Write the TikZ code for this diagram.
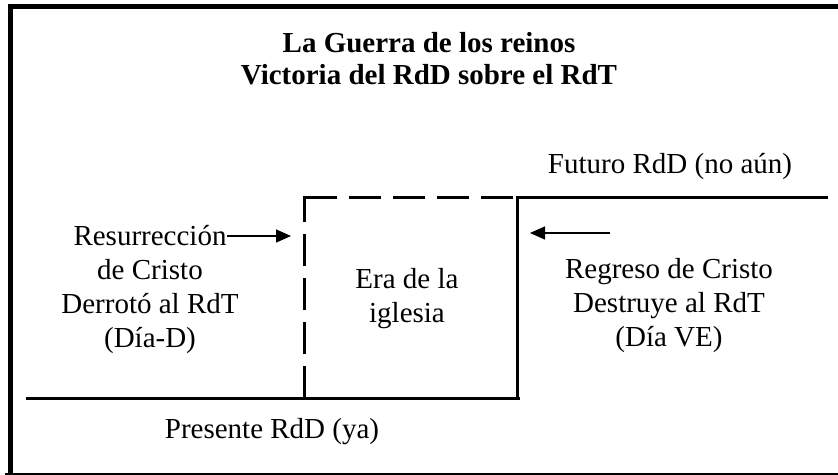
\documentclass[tikz,border=0pt]{standalone}
\usepackage{fontspec}
\setmainfont{Liberation Serif}
\usetikzlibrary{arrows.meta}
\begin{document}
\begin{tikzpicture}[x=1pt,y=-1pt,
  lbl/.style={inner sep=0pt, anchor=base, align=center, font=\fontsize{29}{34}\selectfont},
  ttl/.style={inner sep=0pt, anchor=base, align=center, font=\fontsize{29}{32}\selectfont\bfseries},
  heavy/.style={line width=3pt},
  dashline/.style={line width=3pt, dash pattern=on 32pt off 12pt},
  pointer/.style={line width=1.5pt, -{Triangle[length=15pt,width=13pt]}},
  framestroke/.style={line width=5pt}]
\useasboundingbox (0,0) rectangle (838,474);
\clip (0,0) rectangle (838,474);
% outer frame
\draw[framestroke] (10.5,480) -- (10.5,6.5) -- (845,6.5);
\draw[line width=3pt] (5,474) -- (845,474);
% timeline
\coordinate (pl) at (26,398.5);
\coordinate (pr) at (519.5,398.5);
\coordinate (sb) at (517,400);
\coordinate (st) at (517,197.5);
\coordinate (fr) at (828,197.5);
\coordinate (db) at (304,398);
\coordinate (dt) at (304,195.5);
\coordinate (hr) at (513,197);
\coordinate (hl) at (302.5,197);
\draw[heavy] (pl) -- (pr);
\draw[heavy] (sb) -- (st) -- (fr);
\draw[dashline] (db) -- (dt);
\draw[dashline] (hr) -- (hl);
% arrows
\coordinate (ra) at (227,236);
\coordinate (rb) at (291,236);
\coordinate (la) at (610,233);
\coordinate (lb) at (530,233);
\draw[pointer] (ra) -- (rb);
\draw[pointer] (la) -- (lb);
% texts (base anchor = last line's baseline)
\node[ttl] (title) at (429,84) {La Guerra de los reinos\\Victoria del RdD sobre el RdT};
\node[lbl] (resu) at (150,347) {Resurrección\\de Cristo\\Derrotó al RdT\\(Día-D)};
\node[lbl] (era) at (407,322) {Era de la\\iglesia};
\node[lbl] (regreso) at (669,346) {Regreso de Cristo\\Destruye al RdT\\(Día VE)};
\node[lbl] (futuro) at (670,173) {Futuro RdD (no aún)};
\node[lbl] (presente) at (272,438) {Presente RdD (ya)};
\end{tikzpicture}
\end{document}
